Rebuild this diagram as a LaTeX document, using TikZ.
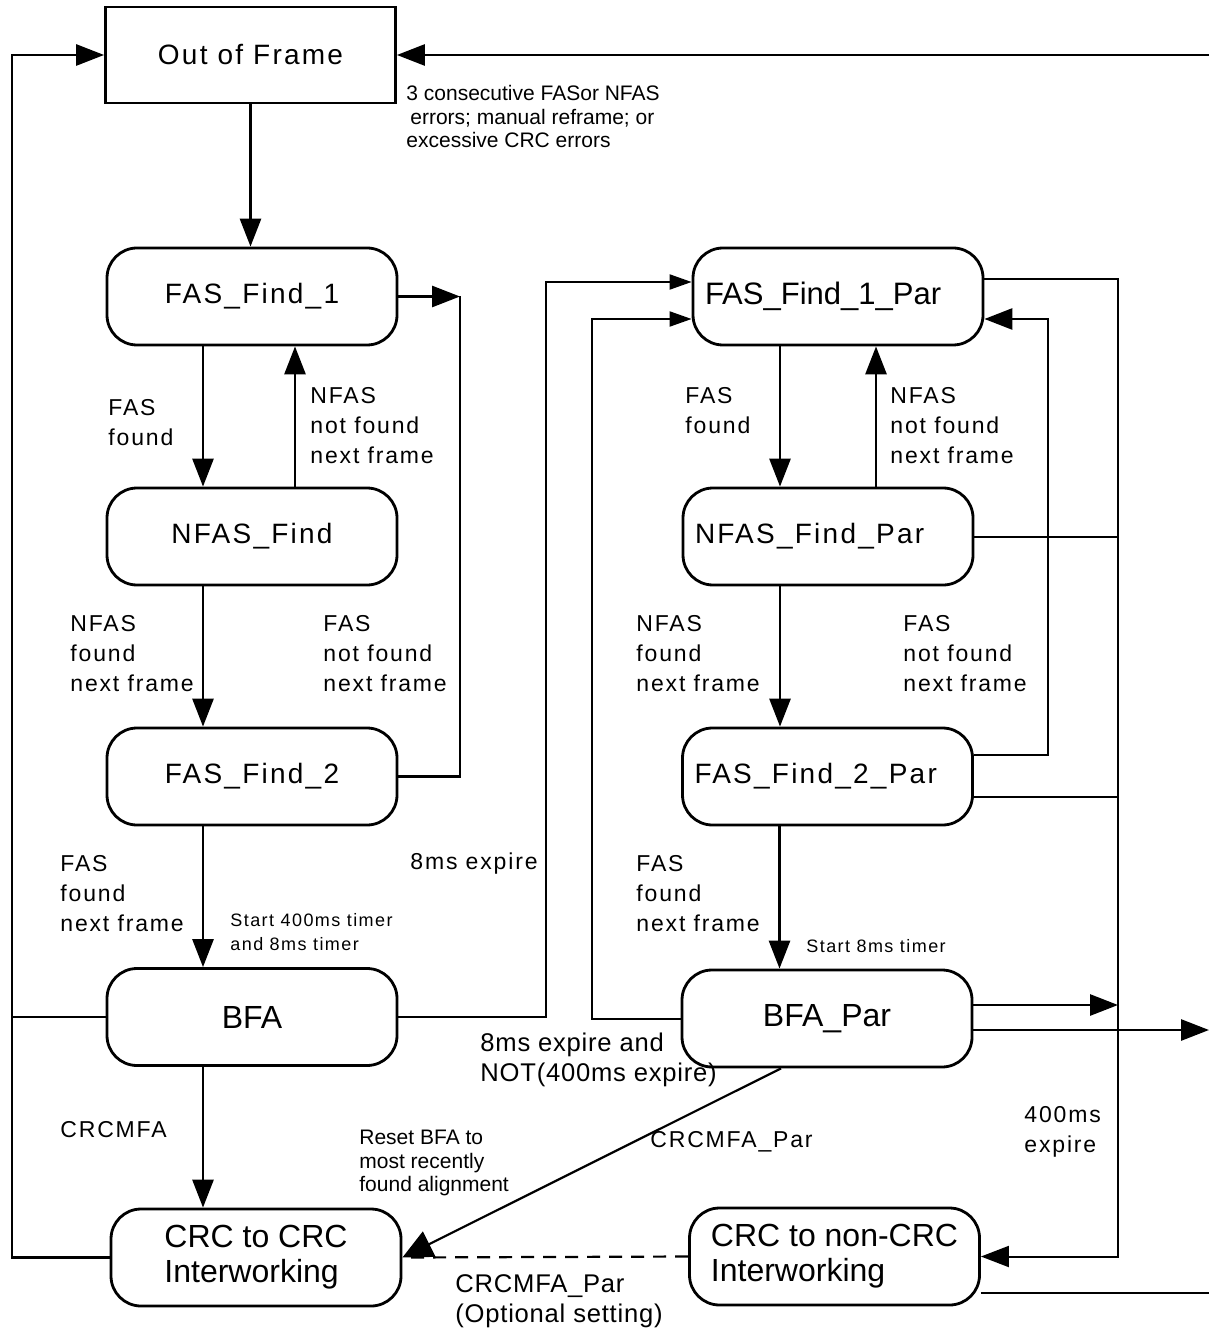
\documentclass[tikz,border=0pt]{standalone}
\usepackage{fontspec}
\setmainfont{Liberation Sans}
\newfontfamily\spaced[LetterSpace=8]{Liberation Sans}
\newfontfamily\light[LetterSpace=3]{Liberation Sans}
\usetikzlibrary{arrows.meta}

\begin{document}
\begin{tikzpicture}[x=0.5pt, y=-0.5pt,
  state/.style={draw, line width=1.4pt, rounded corners=15pt, minimum width=145pt,
    minimum height=48.5pt, inner sep=0pt},
  sfont/.style={font=\spaced\fontsize{14}{16}\selectfont},
  bfont/.style={font=\fontsize{16}{17.5}\selectfont},
  line/.style={line width=1.4pt},
  wire/.style={line width=1pt},
  arr/.style={line width=1.4pt, -{Triangle[length=14pt,width=10.5pt]}},
  sarr/.style={line width=1pt, -{Triangle[length=11pt,width=7.5pt]}},
  lbl/.style={anchor=west, align=left, inner sep=0pt, font=\spaced\fontsize{11.5}{15}\selectfont},
  small/.style={anchor=west, align=left, inner sep=0pt, font=\spaced\fontsize{9}{12}\selectfont},
  note/.style={anchor=west, align=left, inner sep=0pt, font=\fontsize{10.5}{11.75}\selectfont},
  mid/.style={anchor=west, align=left, inner sep=0pt, font=\light\fontsize{12.8}{15}\selectfont}]

  \path[fill=white] (0,0) rectangle (1209,1331);

  % states
  \node[draw, line width=1.4pt, minimum width=145pt, minimum height=48pt, inner sep=0pt, sfont]
    (oof) at (250.5,55) {Out of Frame};
  \node[state, sfont] (f1) at (252,296.5) {FAS\_Find\_1};
  \node[state, sfont] (nf) at (252,536.5) {NFAS\_Find};
  \node[state, sfont] (f2) at (252,776.5) {FAS\_Find\_2};
  \node[state, bfont] (bfa) at (252,1017) {BFA};
  \node[state, bfont, align=left] (crc) at (256,1257.5) {CRC to CRC\\Interworking};

  \node[state, font=\fontsize{15.5}{17}\selectfont, text width=133pt, align=left]
    (fp1) at (838,296.5) {FAS\_Find\_1\_Par};
  \node[state, sfont, text width=133pt, align=left] (np) at (828,536.5) {NFAS\_Find\_Par};
  \node[state, sfont, text width=133pt, align=left] (f2p) at (827.5,776.5) {FAS\_Find\_2\_Par};
  \node[state, bfont] (bp) at (827,1018.5) {BFA\_Par};
  \node[state, bfont, align=left] (cnp) at (834.5,1256.5) {CRC to non-CRC\\Interworking};

  % labels
  \node[note] (t0) at (406,117) {3 consecutive FASor NFAS\\\hspace*{2pt}errors; manual reframe; or\\excessive CRC errors};
  \node[lbl] (t1) at (108,423) {FAS\\found};
  \node[lbl] (t2) at (310,426) {NFAS\\not found\\next frame};
  \node[lbl] (t3) at (70,654) {NFAS\\found\\next frame};
  \node[lbl] (t4) at (323,654) {FAS\\not found\\next frame};
  \node[lbl] (t5) at (60,894) {FAS\\found\\next frame};
  \node[small] (t6) at (230,932) {Start 400ms timer\\and 8ms timer};
  \node[lbl] (t7) at (410,864) {8ms expire};
  \node[lbl] (t8) at (60,1130) {CRCMFA};
  \node[note] (t9) at (359,1163) {Reset BFA to\\most recently\\found alignment};
  \node[mid] (t10) at (480,1060) {8ms expire and\\NOT(400ms expire)};
  \node[mid] (t11) at (455,1301) {CRCMFA\_Par\\(Optional setting)};
  \node[lbl] (t12) at (650,1142) {CRCMFA\_Par};
  \node[lbl] (u1) at (685,411) {FAS\\found};
  \node[lbl] (u2) at (890,426) {NFAS\\not found\\next frame};
  \node[lbl] (u3) at (636,654) {NFAS\\found\\next frame};
  \node[lbl] (u4) at (903,654) {FAS\\not found\\next frame};
  \node[lbl] (u5) at (636,894) {FAS\\found\\next frame};
  \node[small] (u6) at (806,946) {Start 8ms timer};
  \node[lbl] (u7) at (1024,1132) {400ms\\expire};

  \coordinate (ret) at (460,296.5);
  \coordinate (lft) at (12,0);
  \coordinate (rgt) at (1209,0);
  \coordinate (bus) at (1118,0);

  % left column
  \draw[arr] (oof.south) -- (oof.south |- f1.north);
  \draw[arr] ([xshift=-24.5pt]f1.south) -- ([xshift=-24.5pt]f1.south |- nf.north);
  \draw[arr] ([xshift=21.5pt]nf.north) -- ([xshift=21.5pt]nf.north |- f1.south);
  \draw[arr] ([xshift=-24.5pt]nf.south) -- ([xshift=-24.5pt]nf.south |- f2.north);
  \draw[arr] ([xshift=-24.5pt]f2.south) -- ([xshift=-24.5pt]f2.south |- bfa.north);
  \draw[arr] ([xshift=-24.5pt]bfa.south) -- ([xshift=-24.5pt]bfa.south |- crc.north);
  \draw[arr] (f1.east) -- (ret);
  \draw[line] (f2.east) -| (ret);
  \draw[line] (bfa.west) -- (bfa.west -| lft);
  \draw[arr] (crc.west) -| (lft |- oof.west) -- (oof.west);
  \draw[arr] (oof.east -| rgt) -- (oof.east);

  % to the parallel search
  \draw[sarr] (bfa.east) -| (546,282) -- ([yshift=7.25pt]fp1.west);
  \draw[sarr] (bp.west) -| (592,319) -- ([yshift=-11.25pt]fp1.west);

  % right column
  \draw[arr] ([xshift=-29pt]fp1.south) -- ([xshift=-29pt]fp1.south |- np.north);
  \draw[arr] ([xshift=19pt]fp1.south |- np.north) -- ([xshift=19pt]fp1.south);
  \draw[arr] ([xshift=-24pt]np.south) -- ([xshift=-24pt]np.south |- f2p.north);
  \draw[arr] ([xshift=-24pt]f2p.south) -- ([xshift=-24pt]f2p.south |- bp.north);
  \draw[arr] ([yshift=10.75pt]f2p.east) -| (1048,319) -- ([yshift=-11.25pt]fp1.east);

  \draw[wire, -{Triangle[length=14pt,width=10.5pt]}] ([yshift=8.75pt]fp1.east) -| (bus |- cnp.east) -- (cnp.east);
  \draw[wire] (np.east) -- (np.east -| bus);
  \draw[wire] ([yshift=-10.25pt]f2p.east) -- ([yshift=-10.25pt]f2p.east -| bus);
  \draw[arr] ([yshift=6.75pt]bp.east) -- ([yshift=6.75pt]bp.east -| bus);
  \draw[arr] ([yshift=-5.75pt]bp.east) -- ([yshift=-5.75pt]bp.east -| rgt);
  \draw[line] ([yshift=-18.25pt]cnp.east) -- ([yshift=-18.25pt]cnp.east -| rgt);

  % into CRC to CRC
  \draw[line width=1.1pt, -{Triangle[length=15pt,width=14pt]}] ([xshift=-23pt]bp.south) -- (crc.east);
  \draw[line width=1.1pt, dash pattern=on 6.5pt off 4.5pt] (cnp.west) -- (crc.east);
\end{tikzpicture}
\end{document}
